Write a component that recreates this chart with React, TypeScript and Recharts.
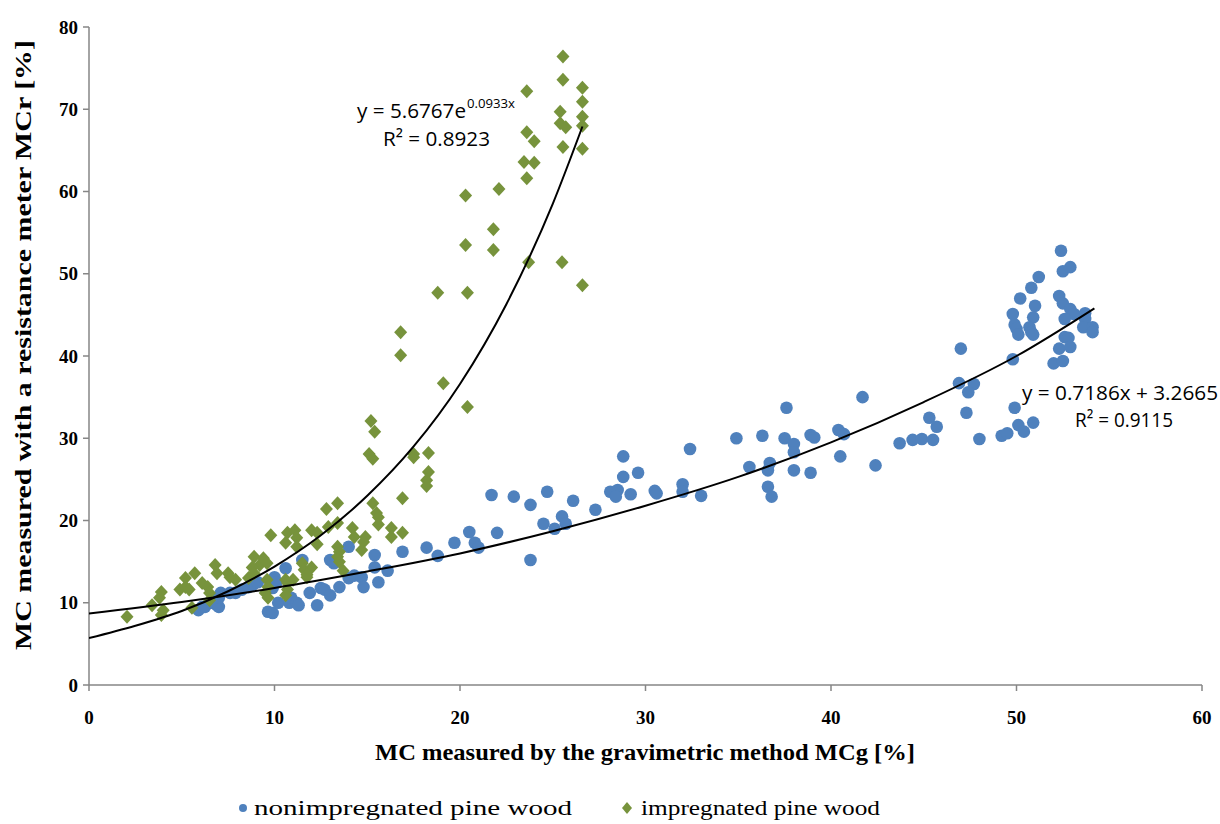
import React from 'react';
import { ScatterChart, Scatter, XAxis, YAxis } from 'recharts';

// nonimpregnated pine wood: [MCg, MCr]
const nonImpregnated: [number, number][] = [
  [5.9, 9.1], [6.1, 9.5], [6.5, 10.0], [6.9, 9.7], [6.25, 9.5], [6.6, 10.0], [7.0, 9.5], [7.0, 10.6],
  [7.1, 11.2], [7.6, 11.2], [7.9, 11.2], [8.25, 11.6], [8.6, 11.9], [8.85, 12.2], [9.1, 12.5], [9.9, 11.8],
  [10.0, 13.1], [10.1, 12.5], [10.6, 14.2], [9.65, 8.9], [9.9, 8.75], [10.2, 10.0], [10.8, 10.0], [10.9, 10.6],
  [11.2, 10.0], [11.3, 9.7], [11.5, 15.2], [11.9, 11.2], [12.3, 9.7], [12.5, 11.8], [12.7, 11.6], [13.0, 10.9],
  [13.0, 15.2], [13.2, 14.8], [13.5, 11.9], [14.0, 13.0], [14.3, 13.3], [14.7, 13.1], [14.0, 16.8], [14.8, 11.9],
  [15.4, 15.8], [15.4, 14.3], [15.6, 12.5], [16.1, 13.9], [16.9, 16.2],
  [18.2, 16.7], [18.8, 15.7], [19.7, 17.3], [20.5, 18.6], [20.8, 17.3], [21.0, 16.7], [21.7, 23.1], [22.0, 18.5],
  [22.9, 22.9], [23.8, 21.9], [23.8, 15.2], [24.5, 19.6], [24.7, 23.5], [25.1, 19.0], [25.5, 20.5], [25.7, 19.6],
  [26.1, 22.4],
  [27.3, 21.3], [28.8, 27.8], [28.8, 25.3], [29.6, 25.8], [28.1, 23.5], [28.5, 23.7], [28.4, 22.9], [29.2, 23.2],
  [30.5, 23.6], [30.6, 23.3], [32.0, 24.4], [32.0, 23.5], [32.4, 28.7], [33.0, 23.0], [34.9, 30.0], [36.3, 30.3],
  [37.6, 33.7], [35.6, 26.5], [36.7, 27.0], [36.6, 26.1], [36.6, 24.1], [36.8, 22.9], [37.5, 30.0], [38.0, 29.3],
  [38.0, 28.3], [38.0, 26.1], [38.9, 25.8], [38.9, 30.4], [39.1, 30.1], [40.4, 31.0], [40.7, 30.5], [40.5, 27.8],
  [41.7, 35.0], [42.4, 26.7],
  [52.4, 52.8], [52.5, 50.3], [52.9, 50.8], [51.2, 49.6], [50.8, 48.3], [50.2, 47.0], [51.0, 46.1], [52.3, 47.3],
  [52.5, 46.4], [52.9, 45.7], [53.1, 45.1], [49.8, 45.1], [50.9, 44.7], [53.7, 45.2], [53.7, 44.5], [52.6, 44.5],
  [49.9, 43.8], [50.0, 43.3], [50.1, 42.6], [50.7, 43.5], [50.8, 42.9], [50.9, 42.6], [53.6, 43.5], [54.1, 43.5],
  [54.1, 42.9], [52.6, 42.3], [52.8, 42.2], [52.3, 40.9], [52.9, 41.1], [47.0, 40.9], [49.8, 39.6], [52.0, 39.1],
  [52.5, 39.4], [46.9, 36.7], [47.7, 36.6], [47.4, 35.6], [47.3, 33.1], [49.9, 33.7], [45.3, 32.5], [45.7, 31.4],
  [50.1, 31.6], [50.4, 30.8], [50.9, 31.9], [43.7, 29.4], [44.4, 29.8], [44.9, 29.9], [45.5, 29.8], [48.0, 29.9],
  [49.2, 30.3], [49.5, 30.6],
];

// impregnated pine wood: [MCg, MCr]
const impregnated: [number, number][] = [
  [2.05, 8.3], [3.4, 9.7], [3.9, 11.3], [3.8, 10.6], [4.0, 9.1], [3.9, 8.5], [4.9, 11.6], [5.2, 13.0],
  [5.2, 11.9], [5.4, 11.6], [5.7, 13.6], [5.55, 9.4], [6.1, 12.4], [6.4, 11.9], [6.8, 14.6], [6.9, 13.6],
  [6.5, 10.3], [6.5, 11.2], [7.5, 13.6], [7.6, 13.1], [7.9, 12.8], [8.9, 15.6], [9.4, 15.4], [9.2, 14.6],
  [9.6, 14.8], [8.8, 14.3], [8.9, 13.6], [8.6, 13.0], [9.6, 12.8], [9.65, 11.9], [9.5, 11.2], [9.65, 10.6],
  [9.8, 18.2], [10.7, 18.5], [11.1, 18.8], [11.2, 17.9], [10.6, 17.3], [11.2, 16.8], [12.0, 18.8], [10.6, 12.8],
  [10.7, 12.4], [11.0, 12.8], [11.5, 14.8], [11.6, 14.0], [12.0, 14.3], [11.75, 13.1], [10.7, 11.6], [10.6, 10.9],
  [12.8, 21.4], [13.4, 22.1], [12.9, 19.2], [13.4, 19.7], [12.3, 18.5], [12.3, 17.1], [15.3, 22.1], [15.5, 20.9],
  [15.6, 20.4], [15.6, 19.5], [14.2, 19.1], [14.3, 18.0], [14.9, 18.0], [14.8, 17.4], [16.3, 19.1], [16.3, 18.0],
  [16.9, 22.7], [16.9, 18.5], [13.4, 16.8], [13.5, 16.2], [13.4, 15.6], [13.5, 15.0], [14.7, 16.4], [11.75, 13.4],
  [13.7, 13.9],
  [15.2, 32.1], [15.4, 30.8], [15.1, 28.1], [15.3, 27.5],
  [17.5, 28.1], [17.5, 27.7], [18.3, 28.2], [18.3, 25.9], [18.2, 24.9], [18.2, 24.2],
  [16.8, 42.9], [16.8, 40.1], [19.1, 36.7], [20.4, 33.8], [18.8, 47.7], [20.4, 47.7], [20.3, 53.5], [20.3, 59.5],
  [21.8, 55.4], [21.8, 52.9], [22.1, 60.3], [23.6, 61.6], [23.45, 63.6], [24.0, 63.5], [23.6, 67.2], [24.0, 66.1],
  [23.6, 72.2], [23.7, 51.4], [25.5, 51.4], [25.55, 76.4], [25.55, 73.6], [26.6, 72.6], [26.6, 70.9], [25.4, 69.7],
  [26.6, 69.1], [25.4, 68.3], [25.7, 67.8], [26.6, 68.0], [25.55, 65.4], [26.6, 65.2], [26.6, 48.6],
];

// trend curves
const expTrendX = [0, 2.5, 5, 7.5, 10, 12.5, 15, 17.5, 20, 22.5, 25, 26.6];
const expTrendY = [5.7, 7.2, 9.0, 11.4, 14.4, 18.2, 23.0, 29.0, 36.6, 46.3, 58.5, 67.9];
const linTrendX = [0, 5, 10, 15, 20, 25, 30, 35, 40, 45, 50, 54.2];
const linTrendY = [8.7, 10.1, 11.8, 13.8, 16.0, 18.7, 21.8, 25.3, 29.5, 34.4, 40.0, 45.8];

const xTicks = [0, 10, 20, 30, 40, 50, 60];
const yTicks = [0, 10, 20, 30, 40, 50, 60, 70, 80];

const BLUE = '#4F81BD';
const GREEN = '#77933C';
const AXIS = '#868686';

const toPts = (arr: [number, number][]) => arr.map(([x, y]) => ({ x, y }));
const zipPts = (xs: number[], ys: number[]) => xs.map((x, i) => ({ x, y: ys[i] }));

const Circle = (p: any) => <circle cx={p.cx} cy={p.cy} r={6.3} fill={BLUE} />;
const Diamond = (p: any) => (
  <path d={`M${p.cx},${p.cy - 7} L${p.cx + 6.5},${p.cy} L${p.cx},${p.cy + 7} L${p.cx - 6.5},${p.cy} Z`} fill={GREEN} />
);
const NoShape = () => <g />;

const tickStyle = { fontFamily: 'Liberation Serif', fontWeight: 'bold' as const, fontSize: 19, fill: '#000' };

export default function App() {
  return (
    <div style={{ position: 'absolute', left: 0, top: 0, width: 1220, height: 824, background: '#fff' }}>
      <ScatterChart width={1220} height={824} margin={{ top: 27, right: 18, bottom: 89, left: 29 }}>
        <XAxis
          type="number"
          dataKey="x"
          domain={[0, 60]}
          ticks={xTicks}
          height={50}
          axisLine={{ stroke: AXIS, strokeWidth: 1.5 }}
          tickLine={{ stroke: AXIS, strokeWidth: 1.5 }}
          tickSize={6}
          tickMargin={20}
          tick={tickStyle}
          allowDataOverflow
        />
        <YAxis
          type="number"
          dataKey="y"
          domain={[0, 80]}
          ticks={yTicks}
          width={60}
          axisLine={{ stroke: AXIS, strokeWidth: 1.5 }}
          tickLine={{ stroke: AXIS, strokeWidth: 1.5 }}
          tickSize={6}
          tickMargin={5}
          tick={tickStyle}
          allowDataOverflow
        />
        <Scatter data={toPts(nonImpregnated)} shape={Circle} isAnimationActive={false} />
        <Scatter data={toPts(impregnated)} shape={Diamond} isAnimationActive={false} />
        <Scatter
          data={zipPts(linTrendX, linTrendY)}
          shape={NoShape}
          line={{ stroke: '#000', strokeWidth: 2 }}
          lineJointType="monotoneX"
          isAnimationActive={false}
        />
        <Scatter
          data={zipPts(expTrendX, expTrendY)}
          shape={NoShape}
          line={{ stroke: '#000', strokeWidth: 2 }}
          lineJointType="monotoneX"
          isAnimationActive={false}
        />
      </ScatterChart>
      <svg width={1220} height={824} style={{ position: 'absolute', left: 0, top: 0, pointerEvents: 'none' }}>
        <text
          transform="translate(31,345) rotate(-90)"
          textAnchor="middle"
          fontFamily="Liberation Serif"
          fontWeight="bold"
          fontSize={24}
          textLength={610}
          lengthAdjust="spacingAndGlyphs"
          fill="#000"
        >
          MC measured with a resistance meter MCr [%]
        </text>
        <text
          x={645}
          y={760}
          textAnchor="middle"
          fontFamily="Liberation Serif"
          fontWeight="bold"
          fontSize={24}
          textLength={540}
          lengthAdjust="spacingAndGlyphs"
          fill="#000"
        >
          MC measured by the gravimetric method MCg [%]
        </text>
        <circle cx={243} cy={808} r={4} fill={BLUE} />
        <text x={254} y={815} fontFamily="Liberation Serif" fontSize={22} textLength={318} lengthAdjust="spacingAndGlyphs" fill="#000">
          nonimpregnated pine wood
        </text>
        <path d="M627,802 L632,808 L627,814 L622,808 Z" fill={GREEN} />
        <text x={641} y={815} fontFamily="Liberation Serif" fontSize={22} textLength={239} lengthAdjust="spacingAndGlyphs" fill="#000">
          impregnated pine wood
        </text>
        <text x={357} y={118} fontFamily="Open Sans" fontSize={20} textLength={109} lengthAdjust="spacingAndGlyphs" fill="#000">
          y = 5.6767e
        </text>
        <text x={467} y={108} fontFamily="Open Sans" fontSize={13} textLength={48} lengthAdjust="spacingAndGlyphs" fill="#000">
          0.0933x
        </text>
        <text x={383} y={146} fontFamily="Open Sans" fontSize={20} textLength={107} lengthAdjust="spacingAndGlyphs" fill="#000">
          R² = 0.8923
        </text>
        <text x={1022} y={400} fontFamily="Open Sans" fontSize={20} textLength={196} lengthAdjust="spacingAndGlyphs" fill="#000">
          y = 0.7186x + 3.2665
        </text>
        <text x={1075} y={427} fontFamily="Open Sans" fontSize={20} textLength={98} lengthAdjust="spacingAndGlyphs" fill="#000">
          R² = 0.9115
        </text>
      </svg>
    </div>
  );
}
